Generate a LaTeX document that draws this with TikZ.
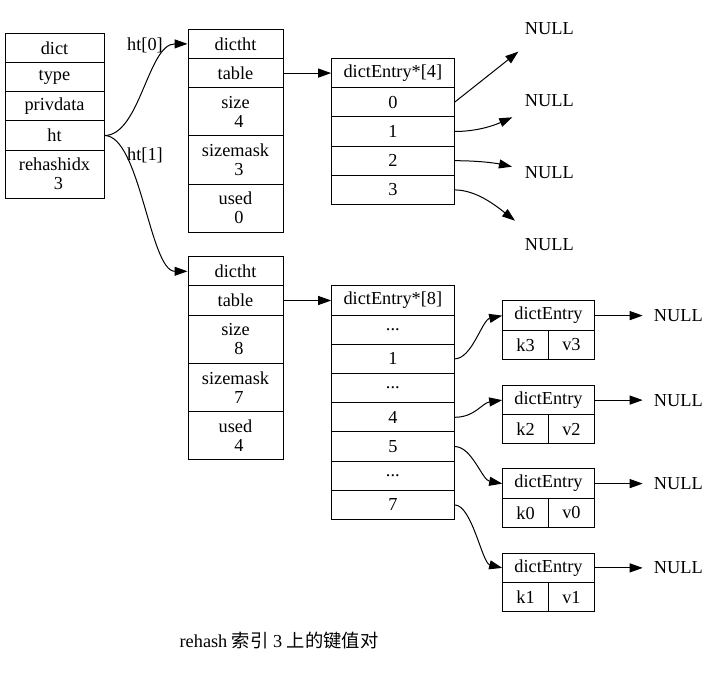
\documentclass[tikz,border=0pt]{standalone}
\usepackage{fontspec}
\setmainfont{Liberation Serif}
\newfontfamily\cjkfont{Noto Sans CJK SC}
\usetikzlibrary{arrows.meta}
\newcommand\dfont{\fontsize{18.3}{19}\selectfont}
\begin{document}
\begin{tikzpicture}[x=1pt,y=-1pt,
  cell/.style={draw, line width=1pt, inner sep=0pt, minimum height=29.2pt, align=center, font=\dfont},
  tall/.style={minimum height=48.2pt},
  dictw/.style={minimum width=99pt},
  htw/.style={minimum width=95pt},
  tabw/.style={minimum width=122.3pt},
  entw/.style={minimum width=91.6pt},
  halfw/.style={minimum width=45.8pt},
  txt/.style={inner sep=0pt, font=\dfont},
  rnull/.style={inner ysep=0pt, inner xsep=11pt, font=\dfont},
  arr/.style={line width=1pt, -{Triangle[length=13pt,width=9pt]}}
]
\useasboundingbox (0,0) rectangle (721,676);
% dict
\node[cell,dictw] (dh) at (54.5,47.9) {dict};
\node[cell,dictw] (dty) at (54.5,77.1) {type};
\node[cell,dictw] (dpr) at (54.5,106.3) {privdata};
\node[cell,dictw] (ht) at (54.5,135.5) {ht};
\node[cell,dictw,tall] (drh) at (54.5,174.2) {rehashidx\\\hspace*{8pt}3};
% dictht 0
\node[cell,htw] (a0) at (235.5,43.9) {dictht};
\node[cell,htw] (a1) at (235.5,73.1) {table};
\node[cell,htw,tall] (a2) at (235.5,111.8) {size\\\hspace*{7pt}4};
\node[cell,htw,tall] (a3) at (235.5,160.0) {sizemask\\\hspace*{7pt}3};
\node[cell,htw,tall] (a4) at (235.5,208.2) {used\\\hspace*{7pt}0};
% dictht 1
\node[cell,htw] (b0) at (235.5,271.3) {dictht};
\node[cell,htw] (b1) at (235.5,300.5) {table};
\node[cell,htw,tall] (b2) at (235.5,339.2) {size\\\hspace*{7pt}8};
\node[cell,htw,tall] (b3) at (235.5,387.4) {sizemask\\\hspace*{7pt}7};
\node[cell,htw,tall] (b4) at (235.5,435.6) {used\\\hspace*{7pt}4};
% table 4
\node[cell,tabw] (t4h) at (392.85,73.1) {dictEntry*[4]};
\node[cell,tabw] (t4r0) at (392.85,102.3) {0};
\node[cell,tabw] (t4r1) at (392.85,131.5) {1};
\node[cell,tabw] (t4r2) at (392.85,160.7) {2};
\node[cell,tabw] (t4r3) at (392.85,189.9) {3};
% table 8
\node[cell,tabw] (t8h) at (392.85,300.5) {dictEntry*[8]};
\node[cell,tabw] (t8a) at (392.85,329.7) {...};
\node[cell,tabw] (t8r1) at (392.85,358.9) {1};
\node[cell,tabw] (t8b) at (392.85,388.1) {...};
\node[cell,tabw] (t8r4) at (392.85,417.3) {4};
\node[cell,tabw] (t8r5) at (392.85,446.5) {5};
\node[cell,tabw] (t8c) at (392.85,475.7) {...};
\node[cell,tabw] (t8r7) at (392.85,504.9) {7};
% dictEntry boxes
\node[cell,entw] (e1) at (548.5,315.6) {dictEntry};
\node[cell,halfw] (k3) at (525.6,344.8) {k3};
\node[cell,halfw] (v3) at (571.4,344.8) {v3};
\node[cell,entw] (e2) at (548.5,400.1) {dictEntry};
\node[cell,halfw] (k2) at (525.6,429.3) {k2};
\node[cell,halfw] (v2) at (571.4,429.3) {v2};
\node[cell,entw] (e3) at (548.5,483.6) {dictEntry};
\node[cell,halfw] (k0) at (525.6,512.8) {k0};
\node[cell,halfw] (v0) at (571.4,512.8) {v0};
\node[cell,entw] (e4) at (548.5,567.9) {dictEntry};
\node[cell,halfw] (k1) at (525.6,597.1) {k1};
\node[cell,halfw] (v1) at (571.4,597.1) {v1};
% NULL nodes
\node[txt] (n0) at (549.3,29) {NULL};
\node[txt] (n1) at (549.3,101) {NULL};
\node[txt] (n2) at (549.3,173) {NULL};
\node[txt] (n3) at (549.3,245) {NULL};
\node[rnull] (r1) at (678.3,315.6) {NULL};
\node[rnull] (r2) at (678.3,400.1) {NULL};
\node[rnull] (r3) at (678.3,483.6) {NULL};
\node[rnull] (r4) at (678.3,567.9) {NULL};
\coordinate (p0) at (518.3,51.7);
\coordinate (p1) at (512.3,117.3);
\coordinate (p2) at (512,166.7);
\coordinate (p3) at (515,220.7);
% ht edges
\draw[arr] (ht.east) .. controls (140,135.5) and (148,43.9) .. (a0.west);
\draw[arr] (ht.east) .. controls (140,135.5) and (150,271.3) .. (b0.west);
\node[txt] (l0) at (145,45) {ht[0]};
\node[txt] (l1) at (145,155) {ht[1]};
% table edges
\draw[arr] (a1.east) -- (t4h.west);
\draw[arr] (b1.east) -- (t8h.west);
% top NULL edges
\draw[arr] (t4r0.east) -- (p0);
\draw[arr] (t4r1.east) .. controls (478,131.5) and (495,125) .. (p1);
\draw[arr] (t4r2.east) .. controls (478,160.7) and (495,163) .. (p2);
\draw[arr] (t4r3.east) .. controls (476,190) and (495,205) .. (p3);
% bucket edges
\draw[arr] (t8r1.east) .. controls (472,358.9) and (482,320) .. (e1.west);
\draw[arr] (t8r4.east) .. controls (475,417.3) and (482,403) .. (e2.west);
\draw[arr] (t8r5.east) .. controls (472,446.5) and (482,480) .. (e3.west);
\draw[arr] (t8r7.east) .. controls (472,504.9) and (482,563) .. (e4.west);
% entry NULL edges
\draw[arr] (e1.east) -- (r1.west);
\draw[arr] (e2.east) -- (r2.west);
\draw[arr] (e3.east) -- (r3.west);
\draw[arr] (e4.east) -- (r4.west);
% caption
\node[txt] (cap) at (279,641) {rehash {\cjkfont 索引} 3 {\cjkfont 上的键值对}};
\end{tikzpicture}
\end{document}
